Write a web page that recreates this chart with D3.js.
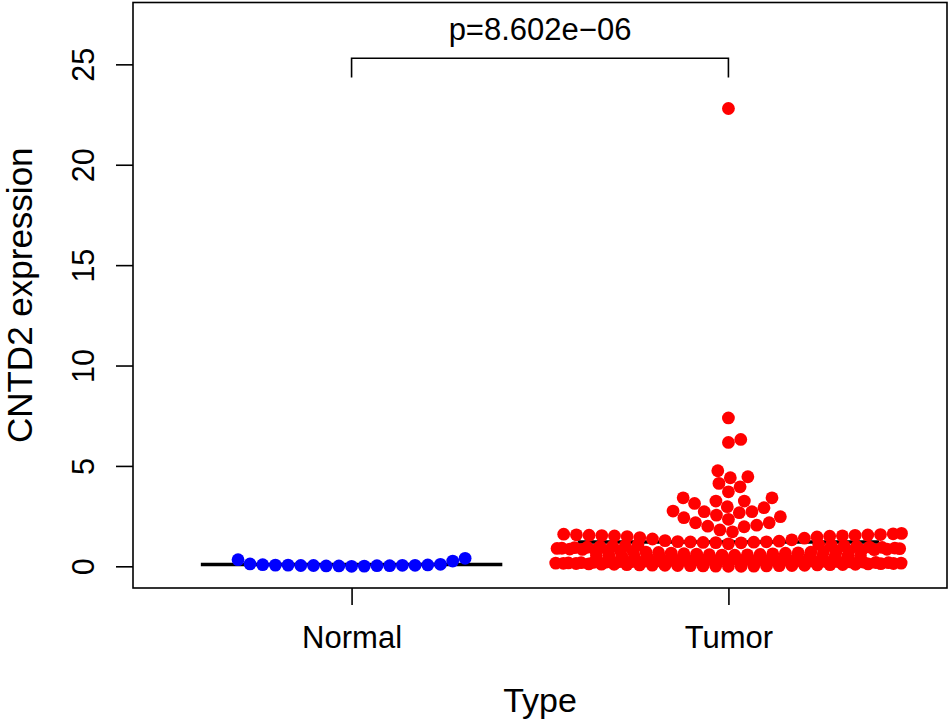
<!DOCTYPE html>
<html><head><meta charset="utf-8">
<script src="https://cdn.jsdelivr.net/npm/d3@7"></script>
<style>body{margin:0;background:#fff}svg{display:block}</style>
</head><body><svg id="c" width="950" height="720"></svg>
<script>
// ---------------- data ----------------
const categories = ["Normal", "Tumor"];
const groupColors = ["#0000FF", "#FF0000"];
const normalValues = [0.05,0.02,0.40,0.03,0.07,0.01,0.12,0.04,0.26,0.06,0.03,0.08,0.00,0.05,0.33,0.02,0.10,0.04,0.06];
const tumorLow = [0.00,0.00,0.01,0.01,0.02,0.02,0.03,0.03,0.04,0.04,0.05,0.05,0.06,0.07,0.07,0.08,0.08,0.09,0.10,0.10,
  0.11,0.12,0.12,0.13,0.14,0.14,0.15,0.16,0.16,0.17,0.18,0.18,0.19,0.20,0.21,0.21,0.22,0.23,0.24,0.24,
  0.25,0.26,0.27,0.27,0.28,0.29,0.30,0.30,0.31,0.32,0.33,0.34,0.34,0.35,0.36,0.37,0.37,0.38,0.39,0.40,
  0.40,0.41,0.42,0.43,0.43,0.44,0.45,0.46,0.46,0.47,0.48,0.49,0.50,0.51,0.52,0.53,0.54,0.55,0.56,0.57];
const tumorMid = [0.58,0.59,0.61,0.62,0.63,0.65,0.66,0.67,0.69,0.70,0.71,0.72,0.74,0.75,0.76,0.78,0.79,0.80,0.81,0.83,
  0.84,0.85,0.86,0.88,0.89,0.90,0.91,0.93,0.94,0.95,0.96,0.98,0.99,1.00,1.02,1.03,1.05,1.07,1.09,1.12];
const tumorUpper = [1.17,1.18,1.19,1.20,1.21,1.22,1.23,1.25,1.28,1.32,1.36,1.40,1.43,1.46,1.48,1.50,1.51,1.52,1.53,1.54,
  1.55,1.56,1.57,1.58,1.60,1.62,1.64];
const tumorHigh = [22.8,7.39,6.32,6.17,4.76,4.46,4.41,4.13,3.96,3.71,3.41,3.41,3.25,3.25,3.13,2.97,2.92,2.75,2.72,2.72,
  2.67,2.55,2.47,2.42,2.34,2.17,2.17,2.05,2.00,1.97,1.81,1.72];
const tumorValues = [].concat(tumorLow, tumorMid, tumorUpper, tumorHigh);
const groups = [normalValues, tumorValues];
const yTicks = [0, 5, 10, 15, 20, 25];
const pLabel = "p=8.602e\u221206";
const bracketLevels = [24.35, 25.3];
const xTitle = "Type";
const yTitle = "CNTD2 expression";

// ---------------- layout ----------------
const FONT = "'Liberation Sans', Arial, Helvetica, sans-serif";
const L = 133, R = 947, T = 2.5, B = 588;
const x = d3.scaleLinear().domain([0.42, 2.58]).range([L, R]);
const y = d3.scaleLinear().domain([-1.08, 28.08]).range([B, T]);
const svg = d3.select("#c");
svg.append("rect").attr("width", 950).attr("height", 720).attr("fill", "#fff");

const DIAM = 12.7;               // swarm spacing in px
const corralWidth = 0.93;        // in x units
const corralPx = x(1 + corralWidth) - x(1);

function swarm(values) {
  const pts = values.map((v, i) => ({ v, i, py: y(v) })).sort((a, b) => a.v - b.v);
  const placed = [];
  for (const p of pts) {
    const near = placed.filter(q => Math.abs(q.py - p.py) < DIAM);
    const cands = [0];
    near.forEach(q => { const o = Math.sqrt(DIAM * DIAM - (q.py - p.py) ** 2); cands.push(q.dx + o); });
    near.forEach(q => { const o = Math.sqrt(DIAM * DIAM - (q.py - p.py) ** 2); cands.push(q.dx - o); });
    const ok = cands.filter(c => near.every(q => (c - q.dx) ** 2 + (q.py - p.py) ** 2 >= DIAM * DIAM - 1e-6));
    let best = ok[0];
    ok.forEach(c => { if (Math.abs(c) < Math.abs(best) - 1e-9) best = c; });
    p.dx = best;
    placed.push(p);
  }
  pts.forEach(p => {
    const h = corralPx / 2;
    p.dx = ((p.dx + h) % corralPx + corralPx) % corralPx - h;
  });
  return pts;
}

// mean lines (behind points)
groups.forEach((vals, gi) => {
  const m = d3.mean(vals);
  svg.append("line")
    .attr("x1", x(gi + 1 - 0.4)).attr("x2", x(gi + 1 + 0.4))
    .attr("y1", y(m)).attr("y2", y(m))
    .attr("stroke", "#000").attr("stroke-width", 3.6);
});

// points
groups.forEach((vals, gi) => {
  const pts = swarm(vals);
  svg.append("g").selectAll("circle").data(pts).join("circle")
    .attr("cx", d => x(gi + 1) + d.dx)
    .attr("cy", d => d.py)
    .attr("r", 6.4)
    .attr("fill", groupColors[gi]);
});

// box
svg.append("rect").attr("x", L).attr("y", T).attr("width", R - L).attr("height", B - T)
  .attr("fill", "none").attr("stroke", "#000").attr("stroke-width", 1.6);

// y axis
const gy = svg.append("g").attr("transform", `translate(${L},0)`)
  .call(d3.axisLeft(y).tickValues(yTicks).tickSize(17).tickFormat(d3.format("d")));
gy.select(".domain").remove();
gy.selectAll(".tick line").attr("stroke", "#000").attr("stroke-width", 1.6);
gy.selectAll(".tick text")
  .attr("transform", "rotate(-90)")
  .attr("x", 0).attr("y", -39).attr("dy", 0)
  .attr("text-anchor", "middle")
  .attr("fill", "#000")
  .style("font-family", FONT).style("font-size", "30.5px");

// x axis
const gx = svg.append("g").attr("transform", `translate(0,${B})`)
  .call(d3.axisBottom(x).tickValues([1, 2]).tickSize(17).tickFormat((d, i) => categories[i]));
gx.select(".domain").remove();
gx.selectAll(".tick line").attr("stroke", "#000").attr("stroke-width", 1.6);
gx.selectAll(".tick text")
  .attr("y", 60).attr("dy", 0)
  .attr("fill", "#000")
  .style("font-family", FONT).style("font-size", "31px");

// titles
svg.append("text").attr("x", (L + R) / 2).attr("y", 711.5).attr("text-anchor", "middle")
  .style("font-family", FONT).style("font-size", "34px").text(xTitle);
svg.append("text").attr("transform", `translate(32,${(T + B) / 2}) rotate(-90)`).attr("text-anchor", "middle")
  .style("font-family", FONT).style("font-size", "35px").text(yTitle);

// p-value bracket
svg.append("path")
  .attr("d", `M${x(1)},${y(bracketLevels[0])}V${y(bracketLevels[1])}H${x(2)}V${y(bracketLevels[0])}`)
  .attr("fill", "none").attr("stroke", "#000").attr("stroke-width", 1.6);
svg.append("text").attr("x", (x(1) + x(2)) / 2).attr("y", 40).attr("text-anchor", "middle")
  .style("font-family", FONT).style("font-size", "31px").text(pLabel);
</script></body></html>
